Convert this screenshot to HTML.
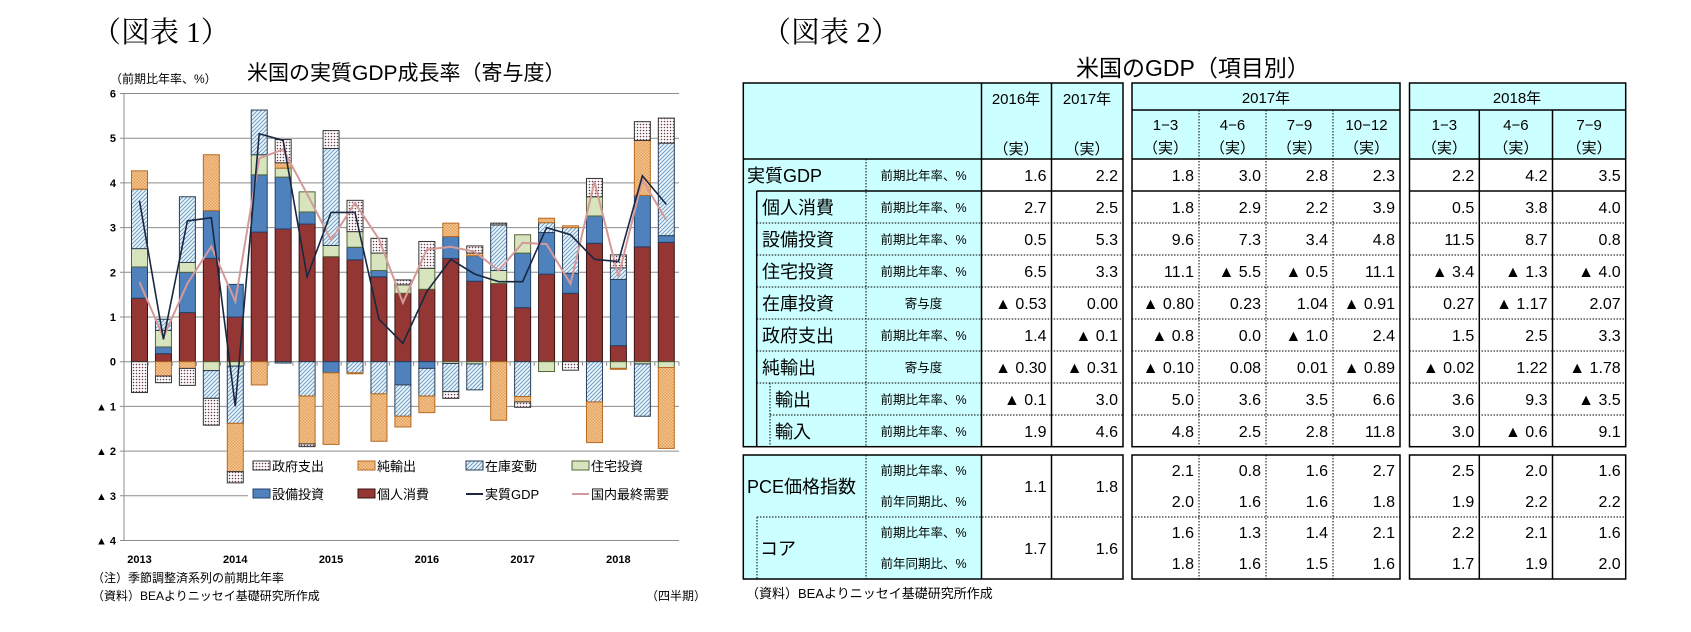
<!DOCTYPE html>
<html><head><meta charset="utf-8">
<style>
html,body{margin:0;padding:0;background:#fff;}
svg{display:block;}
text{font-family:"Liberation Sans","Noto Sans CJK JP",sans-serif;fill:#000;}
.serif{font-family:"Liberation Serif","Noto Serif CJK SC",serif;}
</style></head>
<body>
<svg id="page" width="1691" height="632" viewBox="0 0 1691 632" xmlns="http://www.w3.org/2000/svg">
<defs>
<pattern id="pGov" width="3" height="3" patternUnits="userSpaceOnUse"><rect width="3" height="3" fill="#fff"/><circle cx="1.5" cy="1.5" r="0.8" fill="#6a3a4a"/></pattern>
<pattern id="pNet" width="3" height="3" patternUnits="userSpaceOnUse"><rect width="3" height="3" fill="#f8c890"/><rect width="1.5" height="1.5" fill="#e0a060"/><rect x="1.5" y="1.5" width="1.5" height="1.5" fill="#e0a060"/></pattern>
<pattern id="pInv" width="4" height="4" patternUnits="userSpaceOnUse"><rect width="4" height="4" fill="#eef6fb"/><path d="M0,4 L4,0 M-1,1 L1,-1 M3,5 L5,3" stroke="#6e9fc4" stroke-width="1"/></pattern>
</defs>

<text class="serif" x="92" y="42" font-size="29">（図表 1）</text>
<text x="247" y="80" font-size="21">米国の実質GDP成長率（寄与度）</text>
<text x="110" y="83" font-size="12">（前期比年率、%）</text>

<g id="chart"></g>

<text x="92" y="582" font-size="12">（注）季節調整済系列の前期比年率</text>
<text x="92" y="600" font-size="12">（資料）BEAよりニッセイ基礎研究所作成</text>
<text x="646" y="600" font-size="12">（四半期）</text>

<text class="serif" x="762" y="42" font-size="29">（図表 2）</text>
<text x="1076" y="76" font-size="23">米国のGDP（項目別）</text>
<g id="table"></g>
<text x="746" y="598" font-size="13">（資料）BEAよりニッセイ基礎研究所作成</text>
</svg>

<script>
// ---------- chart data ----------
const quarters = ["2013Q1","2013Q2","2013Q3","2013Q4","2014Q1","2014Q2","2014Q3","2014Q4","2015Q1","2015Q2","2015Q3","2015Q4","2016Q1","2016Q2","2016Q3","2016Q4","2017Q1","2017Q2","2017Q3","2017Q4","2018Q1","2018Q2","2018Q3"];
const yearLabels = ["2013","2014","2015","2016","2017","2018"];
const yTicks = [6,5,4,3,2,1,0,-1,-2,-3,-4];
const consumption = [1.42,0.18,1.10,2.31,1.00,2.90,2.97,3.08,2.35,2.28,1.90,1.53,1.62,2.31,1.80,1.75,1.21,1.96,1.53,2.65,0.36,2.57,2.67];
const investment = [0.70,0.15,0.90,1.07,0.73,1.28,1.16,0.27,-0.25,0.28,0.14,-0.52,-0.15,0.49,0.57,0,1.22,0.93,0.45,0.61,1.48,1.15,0.15];
const residential = [0.41,0.37,0.22,-0.20,-0.10,0.45,0.20,0.45,0.25,0.35,0.39,0.19,0.47,-0.04,-0.05,0.29,0.41,-0.22,0,0.43,-0.15,-0.05,-0.13];
const inventory = [1.33,0.25,1.47,-0.62,-1.28,1.00,-0.03,-0.77,2.17,-0.25,-0.72,-0.70,-0.62,-0.63,-0.58,1.02,-0.78,0.22,1.02,-0.90,0.26,-1.17,2.07];
const netExports = [0.41,-0.32,-0.15,1.25,-1.08,-0.52,0.12,-1.07,-1.60,-0.02,-1.06,-0.24,-0.37,0.30,0.06,-1.31,-0.12,0.10,0.04,-0.91,-0.02,1.23,-1.81];
const government = [-0.69,-0.15,-0.38,-0.60,-0.25,0,0.52,-0.06,0.40,0.70,0.33,0.11,0.60,-0.15,0.16,0.04,-0.12,0,-0.19,0.41,0.29,0.42,0.56];
const realGDP = [3.6,0.5,3.15,3.22,-1.0,5.1,4.95,1.9,3.34,3.34,0.95,0.41,1.57,2.29,1.96,1.79,1.79,3.0,2.84,2.29,2.24,4.16,3.52];
const domesticDemand = [1.78,0.55,1.75,2.58,1.35,4.55,4.75,3.75,2.72,3.55,2.74,1.32,2.51,2.57,2.46,2.04,2.66,2.63,1.74,4.03,1.9,4.07,3.17];

const NS="http://www.w3.org/2000/svg";
function mk(tag, attrs, parent){const e=document.createElementNS(NS,tag);for(const k in attrs)e.setAttribute(k,attrs[k]);parent.appendChild(e);return e;}
const chart=document.getElementById('chart');
const X0=124, X1=679, Y0=361.7, UNIT=44.7, PITCH=(X1-X0)/quarters.length;
function y(v){return Y0 - v*UNIT;}
function xc(i){return X0 + 15.5 + i*(666.3-139.5)/22 - 0;}
// grid & y labels
yTicks.forEach(t=>{
  const g=mk('line',{x1:X0-4,x2:X1,y1:y(t),y2:y(t),stroke:'#8c8c8c','stroke-width':1},chart);
  
  
  const lb=mk('text',{x:116,y:y(t)+4,'font-size':11,'font-weight':'bold','text-anchor':'end'},chart);
  lb.textContent = t<0 ? '▲ '+(-t) : String(t);
  
  
});
const ax=mk('line',{x1:X0,x2:X0,y1:y(6),y2:y(-4),stroke:'#8c8c8c','stroke-width':1},chart);


// bars
const series=[
 {d:consumption,fill:'#943634',stroke:'#3a1515',name:'consumption'},
 {d:investment,fill:'#4f81bd',stroke:'#24446b',name:'investment'},
 {d:residential,fill:'#d7e4bd',stroke:'#55663a',name:'residential'},
 {d:inventory,fill:'url(#pInv)',stroke:'#2a3f5a',name:'inventory'},
 {d:netExports,fill:'url(#pNet)',stroke:'#b86a20',name:'net-exports'},
 {d:government,fill:'url(#pGov)',stroke:'#333',name:'government'}
];
const BW=16;
quarters.forEach((q,i)=>{
  let pos=0,neg=0;
  series.forEach(s=>{
    const v=s.d[i]; if(!v) return;
    let top,bot;
    if(v>0){bot=pos;top=pos+v;pos=top;}else{top=neg;bot=neg+v;neg=bot;}
    const r=mk('rect',{x:xc(i)-BW/2,y:y(top),width:BW,height:(top-bot)*UNIT,fill:s.fill,stroke:s.stroke,'stroke-width':1},chart);
    
    
  });
  const tk=mk('line',{x1:X0+(i+1)*PITCH,x2:X0+(i+1)*PITCH,y1:Y0,y2:Y0+4,stroke:'#8c8c8c'},chart);
  
  
});
function line(arr,color,w,name){
  const p=mk('polyline',{points:arr.map((v,i)=>xc(i)+','+y(v)).join(' '),fill:'none',stroke:color,'stroke-width':w},chart);
  
  
}
line(domesticDemand,'#d49a9a',2,'line-domestic-final-demand');
line(realGDP,'#1a2740',1.6,'line-real-gdp');
yearLabels.forEach((yl,k)=>{
  const t=mk('text',{x:xc(k*4),y:563,'font-size':11,'font-weight':'bold','text-anchor':'middle'},chart);
  t.textContent=yl;
  
  
});
// legend
const lg=mk('g',{},chart);


mk('rect',{x:248,y:454,width:432,height:56,fill:'#fff'},lg);
const legendItems=[
 ['政府支出','url(#pGov)','#333',253,466,'box'],['純輸出','url(#pNet)','#b86a20',358,466,'box'],['在庫変動','url(#pInv)','#2a3f5a',466,466,'box'],['住宅投資','#d7e4bd','#55663a',572,466,'box'],
 ['設備投資','#4f81bd','#24446b',253,494,'box'],['個人消費','#943634','#3a1515',358,494,'box'],['実質GDP','#1a2740','#1a2740',466,494,'line'],['国内最終需要','#d49a9a','#d49a9a',572,494,'line']];
legendItems.forEach(it=>{
  const g=mk('g',{},lg);
  
  
  if(it[5]==='box') mk('rect',{x:it[3],y:it[4]-5,width:17,height:9,fill:it[1],stroke:it[2]},g);
  else mk('line',{x1:it[3],x2:it[3]+17,y1:it[4],y2:it[4],stroke:it[2],'stroke-width':2},g);
  const t=mk('text',{x:it[3]+19,y:it[4]+5,'font-size':13},g);
  t.textContent=it[0];
});

// ---------- table ----------
const tb=document.getElementById('table');
const CY='#ccffff';
const rowLabels=['実質GDP','個人消費','設備投資','住宅投資','在庫投資','政府支出','純輸出','輸出','輸入'];
const rowUnits=['前期比年率、%','前期比年率、%','前期比年率、%','前期比年率、%','寄与度','前期比年率、%','寄与度','前期比年率、%','前期比年率、%'];
const rowLabelX=[747,762,762,762,762,762,762,775,775];
const rowVals=[
 ['1.6','2.2','1.8','3.0','2.8','2.3','2.2','4.2','3.5'],
 ['2.7','2.5','1.8','2.9','2.2','3.9','0.5','3.8','4.0'],
 ['0.5','5.3','9.6','7.3','3.4','4.8','11.5','8.7','0.8'],
 ['6.5','3.3','11.1','▲ 5.5','▲ 0.5','11.1','▲ 3.4','▲ 1.3','▲ 4.0'],
 ['▲ 0.53','0.00','▲ 0.80','0.23','1.04','▲ 0.91','0.27','▲ 1.17','2.07'],
 ['1.4','▲ 0.1','▲ 0.8','0.0','▲ 1.0','2.4','1.5','2.5','3.3'],
 ['▲ 0.30','▲ 0.31','▲ 0.10','0.08','0.01','▲ 0.89','▲ 0.02','1.22','▲ 1.78'],
 ['▲ 0.1','3.0','5.0','3.6','3.5','6.6','3.6','9.3','▲ 3.5'],
 ['1.9','4.6','4.8','2.5','2.8','11.8','3.0','▲ 0.6','9.1']];
const colR=[1051.5,1123,1199,1266,1333,1400,1479.3,1552.5,1625.7];
const TOP=83,HB=159,RH=32,BOT=446.7;
function T(x,yy,s,size,anchor,name){const t=mk('text',{x:x,y:yy,'font-size':size,'text-anchor':anchor||'start'},tb);t.textContent=s;return t;}
function L(x1,y1,x2,y2,dash,name){const l=mk('line',{x1:x1,y1:y1,x2:x2,y2:y2,stroke:'#000','stroke-width':dash?1:1.5,'stroke-dasharray':dash?'1.5,1.5':'none'},tb);}
// backgrounds
mk('rect',{x:743.3,y:TOP,width:1123-743.3,height:HB-TOP,fill:CY},tb);
mk('rect',{x:1132,y:TOP,width:1400-1132,height:HB-TOP,fill:CY},tb);
mk('rect',{x:1409.5,y:TOP,width:1625.7-1409.5,height:HB-TOP,fill:CY},tb);
mk('rect',{x:743.3,y:HB,width:981.5-743.3,height:BOT-HB,fill:CY},tb);
mk('rect',{x:743.3,y:455,width:981.5-743.3,height:124,fill:CY},tb);
// header text
T(1016,104,'2016年',15,'middle','header-2016');T(1016,154,'（実）',15,'middle','header-2016-actual');
T(1087,104,'2017年',15,'middle','header-2017');T(1087,154,'（実）',15,'middle','header-2017-actual');
T(1266,103,'2017年',15,'middle','header-2017-quarters');T(1517,103,'2018年',15,'middle','header-2018-quarters');
const qh=[['1−3',1132,1199],['4−6',1199,1266],['7−9',1266,1333],['10−12',1333,1400],['1−3',1409.5,1479.3],['4−6',1479.3,1552.5],['7−9',1552.5,1625.7]];
qh.forEach(q=>{T((q[1]+q[2])/2,130,q[0],15,'middle','header-quarter');T((q[1]+q[2])/2,153,'（実）',15,'middle','header-quarter-actual');});
// rows
rowLabels.forEach((lab,r)=>{
  const yy=HB+r*RH+RH/2+6;
  T(rowLabelX[r],yy+1,lab,18,'start','row-label');
  T(923.5,yy-1,rowUnits[r],12.5,'middle','row-unit');
  rowVals[r].forEach((v,c)=>T(colR[c]-5,yy,v,16,'end','value-cell'));
  if(r>0){
    const solid=(r===1);
    L(r>=8?770:756.7,HB+r*RH,1123,HB+r*RH,!solid);
    L(1132,HB+r*RH,1400,HB+r*RH,!solid);
    L(1409.5,HB+r*RH,1625.7,HB+r*RH,!solid);
  }
});
// PCE block
const pceVals=[['2.1','0.8','1.6','2.7','2.5','2.0','1.6'],['2.0','1.6','1.6','1.8','1.9','2.2','2.2'],['1.6','1.3','1.4','2.1','2.2','2.1','1.6'],['1.8','1.6','1.5','1.6','1.7','1.9','2.0']];
const pceAnnual=[['1.1','1.8'],['1.7','1.6']];
T(747,493,'PCE価格指数',18,'start','row-label-pce');
T(760,555,'コア',18,'start','row-label-core');
['前期比年率、%','前年同期比、%','前期比年率、%','前年同期比、%'].forEach((u,k)=>{
  const yy=455+k*31+21;
  T(923.5,yy-1,u,12.5,'middle','row-unit');
  pceVals[k].forEach((v,c)=>T(colR[c+2]-5,yy,v,16,'end','value-cell'));
});
pceAnnual.forEach((pair,k)=>{pair.forEach((v,c)=>T(colR[c]-5,455+k*62+37,v,16,'end','value-cell'));});
L(757,517,1123,517,true);L(1132,517,1400,517,true);L(1409.5,517,1625.7,517,true);
// borders
function box(x1,y1,x2,y2){mk('rect',{x:x1,y:y1,width:x2-x1,height:y2-y1,fill:'none',stroke:'#000','stroke-width':1.5},tb);}
box(743.3,TOP,1123,BOT);box(1132,TOP,1400,BOT);box(1409.5,TOP,1625.7,BOT);
box(743.3,455,1123,579);box(1132,455,1400,579);box(1409.5,455,1625.7,579);
L(743.3,HB,1123,HB,false);L(1132,HB,1400,HB,false);L(1409.5,HB,1625.7,HB,false);
L(1132,110,1400,110,false);L(1409.5,110,1625.7,110,false);
L(981.5,TOP,981.5,BOT,false);L(1051.5,TOP,1051.5,BOT,false);
L(981.5,455,981.5,579,false);L(1051.5,455,1051.5,579,false);
L(866,HB,866,BOT,true);L(866,455,866,579,true);
L(756.7,HB+RH,756.7,BOT,false);L(770,HB+7*RH,770,BOT,true);L(757,517,757,579,true);
[1199,1266,1333].forEach(x=>{L(x,110,x,BOT,true);L(x,455,x,579,true);});
[1479.3,1552.5].forEach(x=>{L(x,110,x,BOT,false);L(x,455,x,579,false);});
</script>
</body></html>
